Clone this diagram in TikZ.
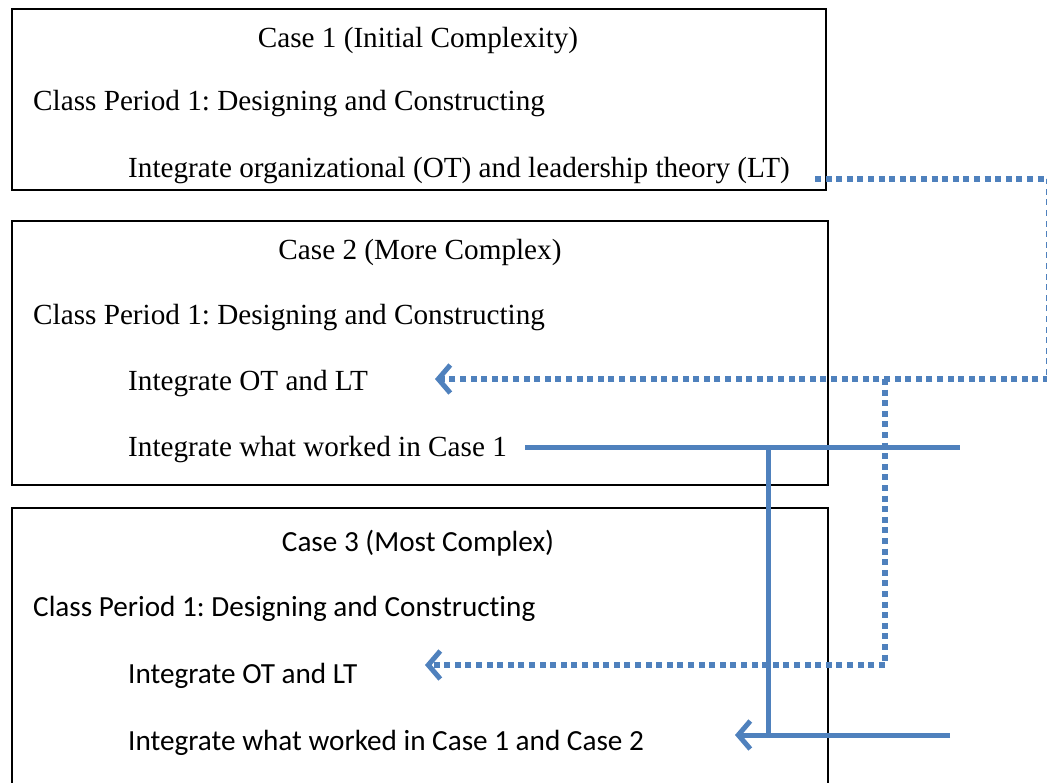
\documentclass[tikz,border=0pt]{standalone}
\usepackage{fontspec}
\setmainfont{Liberation Serif}
\newfontfamily\calfont[Ligatures=NoCommon]{Carlito}
\usetikzlibrary{arrows.meta}
\definecolor{lnblue}{HTML}{4F81BD}
\frenchspacing
\tikzset{
  casebox/.style={draw=black, line width=1.8pt},
  serif/.style={font=\fontsize{29.2}{34}\selectfont, inner sep=0pt},
  calib/.style={font=\calfont\fontsize{29.2}{34}\selectfont, inner sep=0pt},
  dotline/.style={draw=lnblue, line width=5.5pt, dash pattern=on 6pt off 4.6pt},
  solidline/.style={draw=lnblue, line width=5pt},
  chev/.style={-{Straight Barb[length=12pt,width=28pt,line width=5pt]}}
}
\begin{document}
\begin{tikzpicture}[x=1pt,y=-1pt]
\clip (0,0) rectangle (1047,782);
\fill[white] (0,0) rectangle (1047,782);
% boxes
\draw[casebox] (12,9) rectangle (826,190);
\draw[casebox] (12,221) rectangle (828,485);
\draw[casebox] (12,508) rectangle (828,800);
% box 1 text
\node[serif, anchor=base] (c1t) at (418,47) {Case 1 (Initial Complexity)};
\node[serif, anchor=base west] (c1a) at (33,110) {Class Period 1: Designing and Constructing};
\node[serif, anchor=base west] (c1b) at (128,177) {Integrate organizational (OT) and leadership theory (LT)};
% box 2 text
\node[serif, anchor=base] (c2t) at (420,259) {Case 2 (More Complex)};
\node[serif, anchor=base west] (c2a) at (33,324) {Class Period 1: Designing and Constructing};
\node[serif, anchor=base west] (c2b) at (128,390) {Integrate OT and LT};
\node[serif, anchor=base west] (c2c) at (128,456) {Integrate what worked in Case 1};
% box 3 text
\node[calib, anchor=base] (c3t) at (418,551) {Case 3 (Most Complex)};
\node[calib, anchor=base west] (c3a) at (33,616) {Class Period 1: Designing and Constructing};
\node[calib, anchor=base west] (c3b) at (128,683) {Integrate OT and LT};
\node[calib, anchor=base west] (c3c) at (128,750) {Integrate what worked in Case 1 and Case 2};
% coordinates for connectors
\coordinate (dA) at (815,179);
\coordinate (dB) at (1049,179);
\coordinate (dC) at (1049,379);
\coordinate (dJ) at (885,379);
\coordinate (dE) at (435,379);
\coordinate (dK) at (885,665);
\coordinate (dF) at (425,665);
\coordinate (sA) at (525,447);
\coordinate (sB) at (960,447);
\coordinate (sJ) at (768,447);
\coordinate (sK) at (768,735);
\coordinate (sR) at (950,735);
\coordinate (sE) at (735,735);
% dotted connectors
\draw[dotline] (dA) -- (dB) -- (dC);
\draw[dotline, chev] (dC) -- (dE);
\draw[dotline, chev] (dJ) -- (dK) -- (dF);
% solid connectors
\draw[solidline] (sA) -- (sB);
\draw[solidline] (sJ) -- (sK);
\draw[solidline, chev] (sR) -- (sE);
\end{tikzpicture}
\end{document}
